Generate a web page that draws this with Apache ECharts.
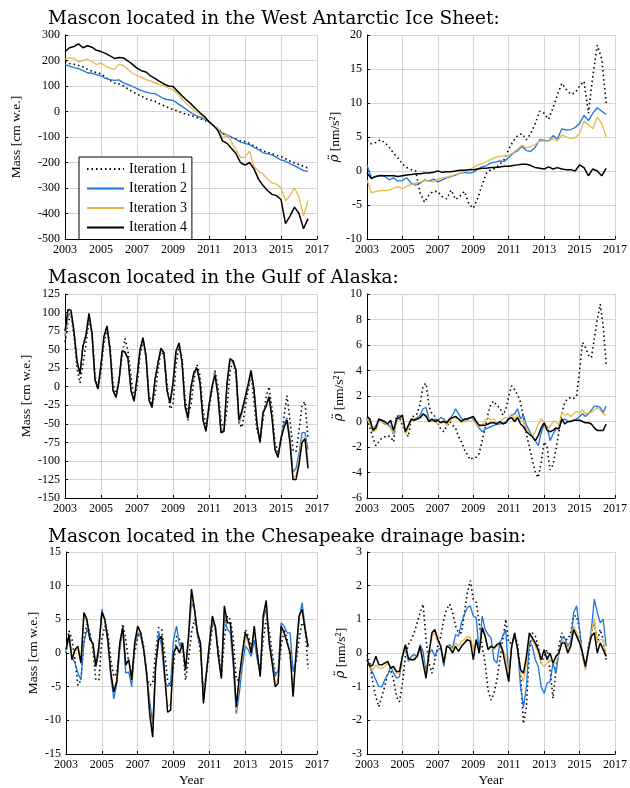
<!DOCTYPE html>
<html lang="en">
<head>
<meta charset="UTF-8">
<title>Mascon iterations</title>
<script src="https://cdn.jsdelivr.net/npm/echarts@6.0.0/dist/echarts.min.js"></script>
<style>html, body { margin: 0; padding: 0; background: #fff; }</style>
</head>
<body>
<div id="chart" style="width: 630px; height: 788px;"></div>
<script>
// sample times (years): quarterly for the ice sheet, every two months for the others
var tQuarter = [];
for (var i = 0; i < 55; i++) tQuarter.push(2003 + i / 4);
var tBimonth = [];
for (var j = 0; j < 82; j++) tBimonth.push(2003 + j / 6);

var iterNames = ['Iteration 1', 'Iteration 2', 'Iteration 3', 'Iteration 4'];
var xTicks = { min: 2003, max: 2017, interval: 2 };

// West Antarctic Ice Sheet, mass [cm w.e.]
var waMass1 = [195, 188, 185, 180, 175, 165, 158, 152, 148, 135, 122, 112, 108, 100, 88, 78,
  68, 60, 50, 45, 40, 30, 22, 15, 8, 2, -5, -12, -15, -22, -28, -35, -40, -55, -70, -85,
  -95, -102, -108, -115, -118, -125, -135, -145, -155, -160, -165, -172, -176, -185, -195, -202,
  -208, -215, -222];
var waMass2 = [185, 178, 172, 168, 160, 152, 150, 145, 140, 130, 125, 122, 124, 112, 105, 98,
  90, 82, 76, 72, 70, 60, 50, 46, 44, 32, 20, 8, -5, -15, -22, -30, -40, -55, -70, -85,
  -92, -100, -110, -120, -125, -130, -140, -150, -162, -165, -170, -180, -190, -195, -205, -212,
  -222, -232, -235];
var waMass3 = [205, 210, 208, 195, 200, 205, 195, 185, 190, 178, 170, 165, 185, 180, 165, 150,
  140, 135, 125, 120, 112, 105, 100, 92, 85, 70, 50, 30, 15, 0, -10, -25, -40, -55, -65, -105,
  -90, -120, -150, -180, -180, -155, -215, -235, -245, -265, -280, -285, -300, -350, -330, -300,
  -335, -410, -350];
var waMass4 = [235, 250, 255, 265, 250, 258, 252, 240, 235, 228, 218, 208, 212, 210, 198, 185,
  170, 160, 155, 140, 130, 118, 108, 100, 98, 80, 62, 45, 30, 12, -5, -20, -40, -55, -75, -115,
  -125, -145, -165, -200, -210, -200, -225, -265, -290, -310, -325, -330, -345, -440, -410, -375,
  -400, -460, -420];

// West Antarctic Ice Sheet, acceleration [nm/s^2]
var waAcc1 = [4.5, 4.0, 4.2, 4.6, 4.2, 3.5, 2.6, 1.9, 1.0, 0.5, 0.2, 0.0, -3.3, -4.6, -3.5, -3.0,
  -3.0, -3.8, -4.1, -2.8, -4.2, -3.7, -3.0, -4.8, -5.5, -4.0, -2.0, -0.3, 0.2, 0.4, 1.0, 1.7,
  3.2, 4.4, 5.2, 5.5, 4.6, 5.5, 7.0, 8.8, 8.5, 7.6, 9.3, 11.2, 12.9, 12.0, 11.3, 11.5,
  12.5, 13.2, 8.5, 14.0, 18.5, 16.5, 10.0];
var waAcc2 = [0.9, -1.0, -0.8, -0.6, -0.8, -1.3, -1.0, -1.5, -1.4, -1.0, -1.8, -2.1, -1.8, -1.3, -1.5, -1.2,
  -1.6, -1.3, -1.0, -0.8, -0.6, -0.3, -0.2, -0.3, -0.2, 0.3, 0.6, 0.8, 1.2, 1.3, 1.5, 1.4,
  2.0, 2.6, 3.0, 3.6, 3.0, 2.9, 3.5, 4.6, 4.5, 4.4, 5.2, 4.7, 6.2, 6.0, 6.1, 6.4,
  7.0, 8.2, 7.4, 8.5, 9.3, 8.8, 8.3];
var waAcc3 = [-1.3, -3.2, -3.0, -2.9, -2.9, -2.8, -2.5, -2.3, -2.6, -2.2, -2.0, -1.8, -1.6, -1.4, -1.5, -1.6,
  -1.2, -1.0, -0.9, -0.7, -0.5, -0.4, -0.1, 0.2, 0.5, 0.9, 1.1, 1.4, 1.7, 2.0, 2.2, 2.2,
  2.3, 2.7, 3.2, 3.8, 3.4, 3.6, 3.9, 4.4, 4.4, 4.4, 4.8, 4.4, 5.3, 5.0, 4.8, 4.9,
  5.5, 7.3, 6.8, 6.2, 7.9, 7.0, 5.0];
var waAcc4 = [-0.3, -1.1, -0.8, -0.7, -0.7, -0.7, -0.7, -0.8, -0.7, -0.6, -0.5, -0.4, -0.4, -0.3, -0.3, -0.2,
  0.0, -0.2, -0.1, -0.1, 0.0, 0.1, 0.1, 0.2, 0.2, 0.3, 0.4, 0.4, 0.5, 0.5, 0.6, 0.7,
  0.7, 0.8, 0.9, 1.0, 1.0, 0.8, 0.5, 0.4, 0.3, 0.6, 0.3, 0.5, 0.3, 0.2, 0.2, 0.0,
  0.9, 0.5, -0.7, 0.3, 0.0, -0.7, 0.4];

// Gulf of Alaska, mass [cm w.e.]
var gaMass1 = [60, 88, 95, 68, 25, 5, 30, 58, 90, 75, 15, -3, 20, 60, 78, 55, 5, -12,
  10, 40, 65, 48, 15, -18, 0, 42, 62, 40, -10, -25, -10, 22, 50, 40, 5, -30,
  -25, 30, 55, 40, -15, -38, -25, 10, 30, 15, -30, -55, -30, -5, 22, 0, -45, -60,
  -30, 20, 35, 15, -50, -55, -30, -5, 18, -20, -60, -68, -45, -15, 0, -30, -75, -88,
  -75, -40, -12, -45, -85, -88, -60, -25, -20, -70];
var gaMass2 = [68, 95, 100, 72, 32, 18, 55, 68, 95, 70, 8, -3, 30, 66, 80, 50, -5, -15,
  8, 46, 46, 38, -5, -20, 10, 48, 65, 42, -18, -28, 8, 32, 50, 45, -5, -22,
  3, 46, 58, 34, -28, -46, -2, 18, 25, 5, -45, -60, -25, -2, 20, -10, -60, -60,
  2, 35, 35, 22, -50, -35, -18, 0, 20, -4, -50, -76, -35, -25, -12, -40, -82, -95,
  -68, -50, -42, -70, -115, -110, -90, -62, -62, -85];
var gaMass3 = [72, 100, 98, 74, 34, 16, 54, 70, 97, 71, 9, -2, 30, 67, 81, 50, -5, -14,
  8, 47, 46, 38, -5, -19, 11, 49, 65, 42, -18, -28, 9, 32, 51, 45, -5, -22,
  4, 47, 58, 34, -26, -43, -1, 19, 25, 5, -45, -60, -25, -1, 17, -11, -62, -60,
  4, 37, 35, 22, -47, -33, -16, 1, 21, -4, -50, -76, -35, -26, -13, -41, -84, -96,
  -69, -53, -44, -73, -122, -120, -98, -70, -66, -100];
var gaMass4 = [75, 104, 103, 75, 35, 17, 55, 70, 99, 72, 10, -3, 30, 68, 82, 50, -5, -14,
  8, 48, 47, 38, -5, -19, 12, 50, 66, 42, -18, -28, 10, 32, 52, 46, -5, -22,
  5, 48, 59, 34, -25, -42, 0, 20, 25, 5, -45, -60, -25, 0, 16, -12, -62, -60,
  5, 38, 35, 22, -45, -32, -15, 2, 22, -4, -50, -75, -35, -27, -14, -42, -85, -95,
  -70, -55, -45, -76, -125, -125, -105, -75, -70, -110];

// Gulf of Alaska, acceleration [nm/s^2]
var gaAcc1 = [0.2, -0.5, -1.3, -1.9, -1.6, -1.3, -1.2, -1.1, -1.2, -1.6, 0.5, 0.3,
  -0.3, -0.8, -1.2, 0.2, 0.5, 0.6, 1.4, 2.8, 3.0, 1.2, 0.6, 0.4,
  -0.1, -0.6, -0.8, -0.4, 0.0, -0.3, -0.5, -1.2, -1.6, -2.2, -2.6, -3.0,
  -2.8, -2.8, -2.5, -1.5, -0.5, 0.6, 1.4, 1.6, 1.2, 1.1, 0.5, 0.9,
  2.0, 2.8, 2.5, 2.1, 1.5, 0.3, -1.0, -2.0, -3.0, -4.0, -4.4, -3.2,
  -1.6, -2.0, -3.8, -3.4, -2.2, -0.8, 0.7, 1.5, 1.8, 1.9, 1.8, 2.0,
  4.0, 6.2, 5.8, 5.2, 5.0, 6.5, 8.0, 9.2, 7.5, 4.5];
var gaAcc2 = [0.3, -0.1, -0.6, -0.3, 0.1, 0.0, -0.2, -0.2, -0.4, -1.0, 0.1, 0.5,
  0.2, -0.8, -0.4, 0.1, 0.2, 0.3, 0.5, 1.0, 1.1, 0.2, 0.0, 0.2,
  0.1, 0.3, 0.2, -0.1, 0.2, 0.5, 1.0, 0.6, 0.2, 0.1, 0.2, 0.3,
  0.2, -0.2, -0.5, -0.8, -0.6, -0.5, -0.4, -0.3, -0.2, -0.2, -0.1, -0.1,
  0.3, 0.5, 0.6, 1.0, 0.2, 0.5, -0.3, -0.7, -1.2, -1.5, -1.9, -0.9,
  -0.2, -0.4, -1.5, -1.0, -0.6, -0.5, 0.1, 0.2, 0.0, 0.0, 0.1, 0.2,
  0.4, 0.6, 0.4, 0.6, 0.9, 1.2, 1.2, 1.1, 0.7, 1.2];
var gaAcc3 = [0.2, -0.2, -0.8, -0.7, 0.0, 0.0, -0.1, -0.3, -0.5, -0.9, 0.0, 0.4,
  0.2, -1.0, -0.5, 0.1, 0.2, 0.3, 0.3, 0.6, 0.5, 0.2, 0.0, 0.1,
  -0.2, 0.0, 0.1, -0.3, 0.0, 0.3, 0.3, 0.2, -0.1, 0.0, 0.1, 0.0,
  0.1, -0.2, -0.4, -0.3, 0.1, 0.3, 0.1, 0.2, -0.1, 0.0, 0.2, 0.3,
  0.3, 0.6, 0.2, 0.5, 0.0, 0.1, -0.6, -0.9, -1.2, -0.8, -0.2, 0.2,
  0.0, -0.6, -0.4, 0.0, 0.0, -0.3, 0.7, 0.5, 0.6, 0.4, 0.6, 0.8,
  0.7, 0.9, 0.6, 0.7, 0.7, 0.9, 1.1, 0.9, 0.6, 0.5];
var gaAcc4 = [0.4, 0.2, -0.7, -0.5, 0.2, 0.1, 0.0, -0.2, 0.1, -0.7, 0.2, 0.3,
  0.5, -0.8, -0.3, 0.2, 0.1, 0.2, 0.3, 0.6, 0.4, 0.0, 0.2, 0.0,
  0.1, -0.1, 0.0, -0.1, 0.2, 0.3, 0.4, 0.2, 0.0, 0.2, 0.2, 0.3,
  0.4, 0.0, -0.3, -0.3, -0.3, -0.2, -0.1, -0.1, -0.2, 0.0, -0.2, -0.1,
  0.2, 0.3, 0.0, 0.3, -0.2, -0.4, -0.8, -1.0, -1.2, -1.5, -1.1, -0.5,
  -0.1, -0.7, -0.8, -0.7, -0.5, -0.6, 0.2, -0.2, 0.0, 0.0, 0.1, 0.1,
  0.1, 0.0, -0.1, -0.1, -0.2, -0.5, -0.7, -0.7, -0.7, -0.2];

// Chesapeake drainage basin, mass [cm w.e.]
var cbMass1 = [0.0, 3.3, 2.0, -1.0, -4.8, -4.0, 2.0, 4.5, 3.0, 0.5, -4.0, -4.0,
  2.0, 4.0, 3.0, -1.0, -3.5, -3.0, 1.0, 4.3, 2.0, -1.5, -3.0, 0.0,
  2.5, 3.0, 1.0, -3.5, -4.8, -4.5, 0.0, 3.8, 3.5, 0.0, -4.0, -5.0,
  -2.0, 2.5, 2.0, 1.0, -4.0, -1.0, 3.0, 5.0, 3.0, 0.0, -5.5, -3.0,
  0.0, 4.0, 3.5, 0.5, -3.5, 2.0, 5.5, 5.0, 2.0, -4.0, -4.0, -1.0,
  3.5, 2.5, 1.0, 2.0, 0.0, -3.0, 2.0, 5.0, 3.5, 0.0, -3.0, -3.0,
  1.0, 3.5, 2.0, -0.5, -2.5, -1.5, 2.0, 4.5, 4.0, -2.3];
var cbMass2 = [0.0, 2.5, -0.5, -1.5, -3.0, -4.0, 1.5, 3.5, 2.5, 1.0, -2.0, 0.0,
  6.5, 5.0, 1.5, -3.5, -6.8, -4.5, 0.5, 3.5, -3.0, -2.8, -5.0, 1.0,
  3.0, 2.5, 0.5, -3.0, -7.0, -10.5, -2.0, 3.2, 1.0, -4.0, -5.0, -4.5,
  2.0, 4.0, 1.0, 1.5, -2.5, 2.0, 7.5, 6.5, 2.5, 1.0, -7.0, -3.0,
  1.5, 4.5, 4.0, -0.5, -3.5, 5.5, 3.5, 3.0, -2.0, -9.0, -6.0, -2.0,
  1.0, 0.5, -0.5, 2.0, -1.0, -3.0, 5.0, 6.5, 2.0, -1.0, -3.5, -2.5,
  4.5, 4.0, 3.0, 3.0, -2.8, -1.0, 5.0, 7.5, 4.0, 0.8];
var cbMass3 = [0.2, 2.5, -0.5, 0.3, 0.5, -1.5, 5.5, 4.5, 2.0, 1.2, -2.0, 0.8,
  5.8, 4.8, 2.0, -3.0, -5.5, -4.0, 1.5, 3.5, -1.5, -1.2, -4.0, 1.5,
  3.8, 2.8, 0.5, -3.0, -8.5, -12.0, -2.0, 2.0, 2.0, -3.0, -8.0, -7.5,
  0.0, 1.0, 0.0, 1.2, -2.5, 2.2, 8.5, 6.5, 3.0, 1.5, -7.0, -3.0,
  1.3, 5.2, 4.0, -0.5, -3.5, 6.5, 4.5, 4.5, -1.0, -8.5, -4.0, -0.5,
  2.5, 1.5, 0.0, 3.5, 0.0, -3.5, 5.5, 7.5, 1.5, -1.5, -4.5, -4.0,
  4.0, 3.0, 1.5, 0.5, -6.0, 0.0, 5.5, 6.5, 3.5, 1.0];
var cbMass4 = [0.5, 2.7, -1.0, 0.5, 1.0, -1.5, 6.0, 5.0, 2.0, 1.5, -2.0, 1.0,
  6.0, 5.0, 2.0, -3.0, -5.8, -4.2, 1.5, 3.8, -1.8, -1.0, -4.0, 1.5,
  4.0, 3.0, 0.5, -3.0, -9.0, -12.5, -2.0, 2.0, 2.5, -3.0, -8.8, -8.5,
  0.0, 1.0, 0.0, 1.5, -2.5, 2.5, 9.5, 6.5, 3.0, 1.5, -7.5, -3.0,
  1.3, 5.5, 3.8, -0.5, -3.8, 7.0, 4.5, 4.5, -1.0, -8.0, -3.5, 0.0,
  3.0, 2.0, 0.0, 4.0, 0.0, -3.5, 5.5, 7.8, 1.5, -1.5, -5.0, -4.5,
  4.0, 3.0, 1.5, 0.0, -6.5, 0.0, 5.5, 6.5, 3.5, 1.0];

// Chesapeake drainage basin, acceleration [nm/s^2]
var cbAcc1 = [-0.05, -0.3, -0.9, -1.3, -1.6, -1.3, -1.0, -0.6, -0.5, -0.8, -1.3, -1.45,
  -0.9, -0.1, 0.25, 0.4, 0.6, 0.9, 1.2, 1.45, 0.4, -0.3, -0.6, -0.2,
  0.2, 0.5, 1.0, 1.3, 1.45, 1.2, 0.8, 0.6, 0.6, 1.2, 1.8, 2.15,
  1.6, 1.5, 0.9, 0.2, -0.3, -1.1, -1.4, -1.2, -0.8, -0.2, 0.4, 1.0,
  0.3, 0.3, 0.5, 0.3, -0.6, -2.1, -1.6, 0.1, 0.6, 0.5, 0.2, -0.3,
  -0.1, 0.1, -0.5, -1.35, -0.5, 0.2, 0.6, 0.4, 0.4, 0.6, 1.1, 1.1,
  0.7, -0.1, -0.4, 0.2, 0.6, 0.9, 0.3, 0.7, 0.4, -0.2];
var cbAcc2 = [-0.2, -0.45, -0.6, -0.8, -1.0, -1.0, -0.8, -0.65, -0.4, -0.6, -0.75, -0.7,
  -0.1, 0.2, -0.25, -0.1, -0.05, -0.1, 0.25, 0.05, -0.6, 0.0, 0.1, -0.1,
  0.1, 0.15, -0.4, 0.2, 0.25, 0.15, 0.55, 0.5, 0.9, 1.15, 1.35, 1.4,
  1.1, 1.05, 0.0, 1.1, 0.7, 0.55, 0.45, -0.2, -0.3, 0.3, 0.5, 0.7,
  -0.7, 0.2, 0.5, 0.15, -1.0, -1.6, -1.0, 0.35, 0.2, -0.2, -0.4, -1.0,
  -1.2, -0.9, -0.85, -0.3, -0.6, 0.0, 0.45, 0.45, 0.2, 0.35, 1.2, 1.4,
  0.7, -0.1, -0.45, 0.1, 0.7, 1.6, 1.2, 0.9, 1.0, 0.2];
var cbAcc3 = [-0.2, -0.45, -0.5, -0.35, -0.45, -0.45, -0.4, -0.3, -0.4, -0.45, -0.6, -0.6,
  -0.1, 0.2, -0.15, -0.2, -0.15, -0.1, 0.2, -0.2, -0.65, 0.0, 0.5, 0.6,
  0.3, 0.2, -0.3, 0.2, 0.2, 0.1, 0.3, 0.2, 0.35, 0.4, 0.5, 0.45,
  0.1, 0.4, 0.05, 0.8, 0.55, 0.15, 0.2, 0.1, 0.2, 0.3, 0.1, -0.1,
  -0.6, 0.2, 0.6, 0.1, -0.6, -0.85, -0.3, 0.55, 0.4, 0.2, 0.0, -0.3,
  -0.4, -0.3, -0.2, -0.3, -0.3, 0.0, 0.35, 0.35, 0.1, 0.25, 0.8, 0.6,
  0.4, -0.1, -0.5, 0.1, 0.6, 1.0, 0.3, 0.4, 0.4, -0.1];
var cbAcc4 = [-0.2, -0.4, -0.35, -0.1, -0.35, -0.35, -0.3, -0.25, -0.45, -0.4, -0.55, -0.55,
  -0.1, 0.25, -0.15, -0.2, -0.2, -0.1, 0.2, -0.3, -0.75, 0.0, 0.6, 0.7,
  0.4, 0.2, -0.3, 0.2, 0.15, 0.0, 0.2, 0.05, 0.2, 0.3, 0.4, 0.35,
  -0.2, 0.4, 0.0, 0.75, 0.5, 0.1, 0.2, 0.15, 0.25, 0.3, 0.05, -0.4,
  -0.85, 0.2, 0.6, 0.1, -0.5, -0.6, -0.1, 0.6, 0.45, 0.3, 0.1, -0.2,
  0.1, -0.2, 0.0, -0.3, -0.1, 0.0, 0.3, 0.3, 0.0, 0.2, 0.7, 0.5,
  0.3, 0.0, -0.4, 0.1, 0.5, 0.6, 0.0, 0.3, 0.1, -0.1];

var titles = [
  'Mascon located in the West Antarctic Ice Sheet:',
  'Mascon located in the Gulf of Alaska:',
  'Mascon located in the Chesapeake drainage basin:'
];

var serif = 'Liberation Serif';
var titleFont = 'DejaVu Serif';
var colors = ['#000000', '#1a74e0', '#e8b64a', '#000000'];
var widths = [1.6, 1.3, 1.3, 1.5];

// panel layout: [left, top, width, height]
var boxes = [
  [65, 35, 252, 204], [367, 35, 251, 204],
  [65, 294, 252, 204], [367, 294, 251, 204],
  [66, 552, 251, 205], [367, 552, 251, 205]
];
var yRanges = [
  [-500, 300, 100], [-10, 20, 5],
  [-150, 125, 25], [-6, 10, 2],
  [-15, 15, 5], [-3, 3, 1]
];
var yNameGaps = [42, 22, 32, 16, 26, 16];
var panels = [
  { t: tQuarter, sets: [waMass1, waMass2, waMass3, waMass4] },
  { t: tQuarter, sets: [waAcc1, waAcc2, waAcc3, waAcc4] },
  { t: tBimonth, sets: [gaMass1, gaMass2, gaMass3, gaMass4] },
  { t: tBimonth, sets: [gaAcc1, gaAcc2, gaAcc3, gaAcc4] },
  { t: tBimonth, sets: [cbMass1, cbMass2, cbMass3, cbMass4] },
  { t: tBimonth, sets: [cbAcc1, cbAcc2, cbAcc3, cbAcc4] }
];

var grids = [], xAxes = [], yAxes = [], series = [];
panels.forEach(function (p, idx) {
  var b = boxes[idx];
  grids.push({ left: b[0], top: b[1], width: b[2], height: b[3] });
  xAxes.push({
    type: 'value', gridIndex: idx, min: xTicks.min, max: xTicks.max, interval: xTicks.interval,
    name: idx >= 4 ? 'Year' : '', nameLocation: 'middle', nameGap: 19,
    nameTextStyle: { fontFamily: serif, fontSize: 13.5, color: '#000' },
    axisLine: { onZero: false, lineStyle: { color: '#000', width: 1 } },
    axisTick: { inside: true, length: 3, lineStyle: { color: '#000' } },
    axisLabel: { fontFamily: serif, fontSize: 12, color: '#000', margin: 5,
      showMinLabel: true, showMaxLabel: true, formatter: function (v) { return String(v); } },
    splitLine: { show: true, lineStyle: { color: '#d4d4d4', width: 1 } }
  });
  var r = yRanges[idx];
  var isMass = idx % 2 === 0;
  yAxes.push({
    type: 'value', gridIndex: idx, min: r[0], max: r[1], interval: r[2],
    name: isMass ? 'Mass [cm w.e.]' : '{r|ρ̈} [nm/s²]',
    nameLocation: 'middle', nameGap: yNameGaps[idx],
    nameTextStyle: { fontFamily: serif, fontSize: 13.5, color: '#000',
      rich: { r: { fontFamily: 'DejaVu Serif', fontSize: 13, fontStyle: 'italic', color: '#000' } } },
    axisLine: { onZero: false, lineStyle: { color: '#000', width: 1 } },
    axisTick: { inside: true, length: 3, lineStyle: { color: '#000' } },
    axisLabel: { fontFamily: serif, fontSize: 12, color: '#000', margin: 5,
      showMinLabel: true, showMaxLabel: true, formatter: function (v) { return String(v); } },
    splitLine: { show: true, lineStyle: { color: '#d4d4d4', width: 1 } }
  });
  p.sets.forEach(function (vals, k) {
    series.push({
      name: iterNames[k], type: 'line', xAxisIndex: idx, yAxisIndex: idx,
      data: vals.map(function (v, i) { return [p.t[i], v]; }),
      symbol: 'none', showSymbol: false, smooth: false,
      lineStyle: { color: colors[k], width: widths[k], type: k === 0 ? [1.5, 3] : 'solid' },
      itemStyle: { color: colors[k] },
      z: 2 + k
    });
  });
});

var chart = echarts.init(document.getElementById('chart'), null, { renderer: 'canvas' });
chart.setOption({
  backgroundColor: '#fff',
  animation: false,
  title: titles.map(function (txt, k) {
    return { text: txt, left: 48, top: [10, 269, 528][k], padding: 0,
      textStyle: { fontFamily: titleFont, fontSize: 18.5, fontWeight: 'normal', color: '#000' } };
  }),
  legend: {
    data: iterNames, orient: 'vertical', left: 79, top: 157,
    itemWidth: 37, itemHeight: 10, itemGap: 5.5,
    itemStyle: { opacity: 0 },
    padding: [5, 5, 5, 7], backgroundColor: '#fff', borderColor: '#000', borderWidth: 1,
    textStyle: { fontFamily: serif, fontSize: 14, color: '#000' },
    selectedMode: false
  },
  grid: grids,
  xAxis: xAxes,
  yAxis: yAxes,
  series: series
});
</script>
</body>
</html>
